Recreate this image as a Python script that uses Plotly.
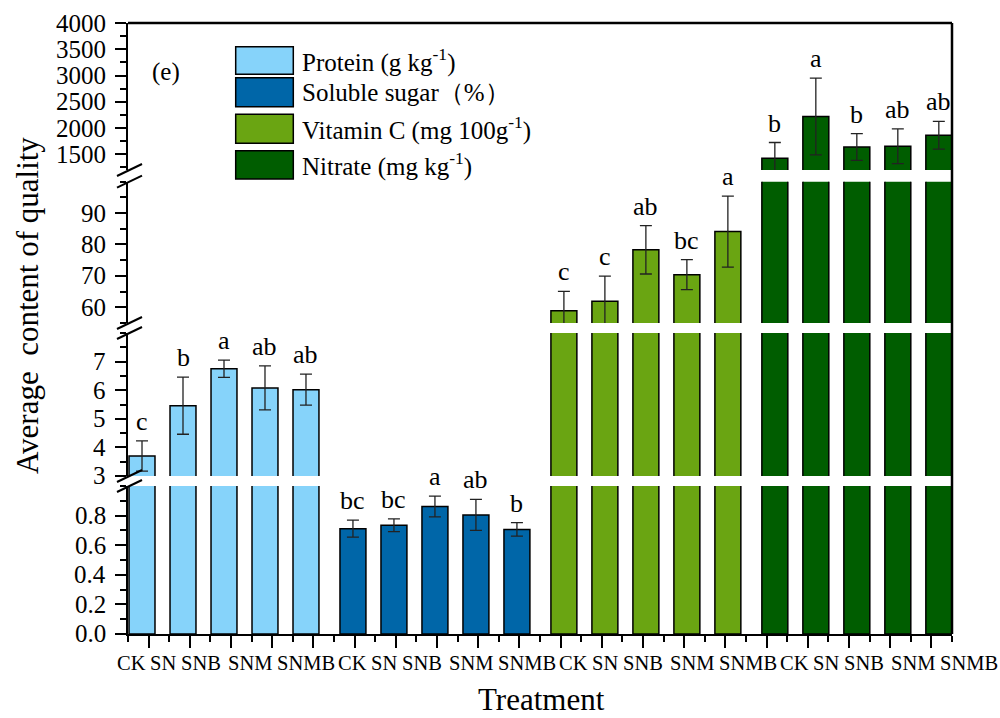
import plotly.graph_objects as go

# ---- data -------------------------------------------------------------
treatments = ["CK", "SN", "SNB", "SNM", "SNMB"]

series_names = [
    "Protein (g kg<sup>-1</sup>)",
    "Soluble sugar（%）",
    "Vitamin C (mg 100g<sup>-1</sup>)",
    "Nitrate (mg kg<sup>-1</sup>)",
]

protein = [3.70, 5.46, 6.75, 6.08, 6.02]
protein_err = [0.53, 1.00, 0.30, 0.77, 0.54]
protein_sig = ["c", "b", "a", "ab", "ab"]

sugar = [0.712, 0.735, 0.862, 0.805, 0.707]
sugar_err = [0.058, 0.043, 0.070, 0.105, 0.045]
sugar_sig = ["bc", "bc", "a", "ab", "b"]

vitamin_c = [58.9, 61.9, 78.3, 70.4, 84.1]
vitamin_c_err = [6.2, 8.0, 7.7, 4.8, 11.3]
vitamin_c_sig = ["c", "c", "ab", "bc", "a"]

nitrate = [1424, 2219, 1639, 1653, 1862]
nitrate_err = [300, 730, 255, 330, 265]
nitrate_sig = ["b", "a", "b", "ab", "ab"]

# ---- styling ------------------------------------------------------------
FONT = "Liberation Serif, Times New Roman, serif"
colors = ["#86D3FA", "#0066A8", "#6AA512", "#005D00"]

values = [protein, sugar, vitamin_c, nitrate]
errors = [protein_err, sugar_err, vitamin_c_err, nitrate_err]
letters = [protein_sig, sugar_sig, vitamin_c_sig, nitrate_sig]

# broken y axis: four stacked segments (bottom to top)
seg_ranges = [[0, 1.0], [3, 8], [55, 100], [1200, 4000]]
seg_domains = [[0, 0.2422], [0.2586, 0.4926], [0.5090, 0.7403], [0.7594, 1.0]]
seg_ticks = [[0, 0.2, 0.4, 0.6, 0.8], [3, 4, 5, 6, 7], [60, 70, 80, 90],
             [1500, 2000, 2500, 3000, 3500, 4000]]
seg_ticktext = [["0.0", "0.2", "0.4", "0.6", "0.8"], ["3", "4", "5", "6", "7"],
                ["60", "70", "80", "90"],
                ["1500", "2000", "2500", "3000", "3500", "4000"]]
seg_minor = [0.1, 0.5, 5, 250]
home_segment = [1, 0, 2, 3]   # segment holding the top of each series

# plot-area pixel frame
L, R, T, B = 128, 952, 23, 634
def px_x(p):
    return (p - L) / (R - L)
def px_y(p):
    return (B - p) / (B - T)

# bar placement along the x axis (x axis spans 0..40)
X0, GROUP_STEP, BAR_STEP, BAR_W = 0.68, 10.24, 1.99, 1.26

# treatment label placement under the axis (pixel centres within one group)
LABEL_PX = [131, 163, 201, 250, 306]
LABEL_GROUP_PX = 221
YLABEL_RIGHT_PX = 108

def yname(k):
    return "y" if k == 0 else f"y{k + 1}"

fig = go.Figure()
annotations = []

for s in range(4):
    xs = [X0 + s * GROUP_STEP + j * BAR_STEP for j in range(len(treatments))]
    for k in range(4):
        err = None
        if k == home_segment[s]:
            err = dict(type="data", array=errors[s], visible=True,
                       color="#222222", thickness=1.3, width=6)
        fig.add_trace(go.Bar(
            x=xs, y=values[s], width=BAR_W,
            marker=dict(color=colors[s], line=dict(color="black", width=1.5)),
            error_y=err, xaxis="x", yaxis=yname(k),
            showlegend=False, name=series_names[s],
        ))
    for j, xv in enumerate(xs):
        annotations.append(dict(
            x=xv, y=values[s][j] + errors[s][j], xref="x", yref=yname(home_segment[s]),
            text=letters[s][j], showarrow=False, xanchor="center", yanchor="bottom",
            yshift=3, font=dict(family=FONT, size=26, color="black"),
        ))
    # treatment names under this group
    for j, name in enumerate(treatments):
        annotations.append(dict(
            x=px_x(LABEL_PX[j] + s * LABEL_GROUP_PX), y=px_y(663),
            xref="paper", yref="paper", text=name, showarrow=False,
            xanchor="center", yanchor="middle",
            font=dict(family=FONT, size=20.5, color="black"),
        ))

layout = dict(
    width=1000, height=718,
    margin=dict(l=L, r=1000 - R, t=T, b=718 - B),
    paper_bgcolor="white", plot_bgcolor="white",
    barmode="overlay",
    xaxis=dict(
        range=[0, 40], anchor="y", showgrid=False, zeroline=False,
        showline=True, linewidth=2, linecolor="black",
        tickmode="linear", tick0=1, dtick=2, ticks="outside", ticklen=12,
        tickwidth=1.5, tickcolor="black", showticklabels=False,
        minor=dict(tick0=0, dtick=2, ticks="outside", ticklen=6,
                   tickwidth=1.5, tickcolor="black"),
    ),
)
for k in range(4):
    key = "yaxis" if k == 0 else f"yaxis{k + 1}"
    layout[key] = dict(
        domain=seg_domains[k], range=seg_ranges[k], anchor="x",
        showgrid=False, zeroline=False,
        showline=True, linewidth=2, linecolor="black",
        tickmode="array", tickvals=seg_ticks[k],
        ticks="outside", ticklen=11, tickwidth=1.5, tickcolor="black",
        showticklabels=False,
        minor=dict(tickmode="linear", tick0=0, dtick=seg_minor[k], ticks="outside",
                   ticklen=6, tickwidth=1.5, tickcolor="black"),
    )
    # tick labels of this segment
    for v, txt in zip(seg_ticks[k], seg_ticktext[k]):
        annotations.append(dict(
            x=px_x(YLABEL_RIGHT_PX), y=v, xref="paper", yref=yname(k),
            text=txt, showarrow=False, xanchor="right", yanchor="middle",
            font=dict(family=FONT, size=25, color="black"),
        ))

shapes = []
# top and right frame
shapes.append(dict(type="line", xref="paper", yref="paper", x0=0, x1=1, y0=1, y1=1,
                   line=dict(color="black", width=2.5)))
shapes.append(dict(type="line", xref="paper", yref="paper", x0=1, x1=1, y0=0, y1=1,
                   line=dict(color="black", width=2.5)))
# axis break marks
for edge in [476, 486, 323, 333, 170, 181.7]:
    shapes.append(dict(type="line", xref="paper", yref="paper",
                       x0=px_x(117), y0=px_y(edge + 6), x1=px_x(142), y1=px_y(edge - 6),
                       line=dict(color="black", width=2)))

# legend boxes and labels
legend_boxes = [(46.7, 74.3), (77.7, 106.7), (114.3, 143.3), (150.7, 179.0)]
for s, (top, bot) in enumerate(legend_boxes):
    shapes.append(dict(type="rect", xref="paper", yref="paper",
                       x0=px_x(235.7), x1=px_x(293.3), y0=px_y(bot), y1=px_y(top),
                       fillcolor=colors[s], line=dict(color="black", width=1.5)))
    annotations.append(dict(
        x=px_x(300), y=px_y((top + bot) / 2), xref="paper", yref="paper",
        text=series_names[s], showarrow=False, xanchor="left", yanchor="middle",
        font=dict(family=FONT, size=25, color="black"),
    ))

# panel tag
annotations.append(dict(x=px_x(166), y=px_y(72), xref="paper", yref="paper",
                        text="(e)", showarrow=False, xanchor="center", yanchor="middle",
                        font=dict(family=FONT, size=25, color="black")))

# axis titles
annotations.append(dict(x=px_x(541), y=px_y(699), xref="paper", yref="paper",
                        text="Treatment", showarrow=False,
                        xanchor="center", yanchor="middle",
                        font=dict(family=FONT, size=31, color="black")))
annotations.append(dict(x=px_x(27), y=px_y(306), xref="paper", yref="paper",
                        text="Average\u00a0 content of quality", showarrow=False,
                        textangle=-90, xanchor="center", yanchor="middle",
                        font=dict(family=FONT, size=31, color="black")))

layout["shapes"] = shapes
layout["annotations"] = annotations
fig.update_layout(**layout)

fig.write_html("out.html")
